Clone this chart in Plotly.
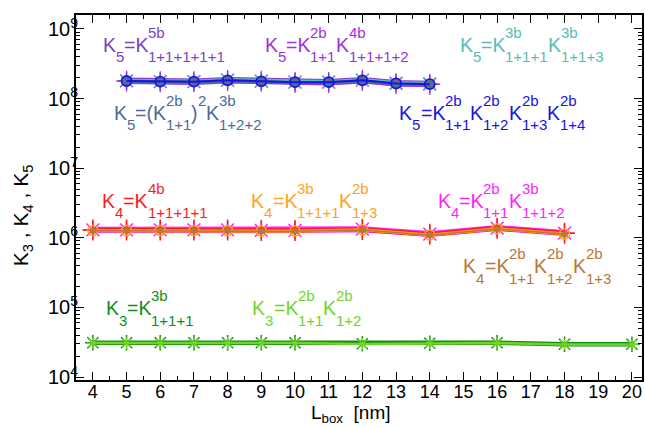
import plotly.graph_objects as go
import numpy as np

# ---------------- data ----------------
x_k5 = [5, 6, 7, 8, 9, 10, 11, 12, 13, 14]
k5_5b      = [1.80e8, 1.75e8, 1.75e8, 1.84e8, 1.78e8, 1.72e8, 1.72e8, 1.84e8, 1.66e8, 1.62e8]
k5_2b4b    = [1.78e8, 1.74e8, 1.74e8, 1.82e8, 1.77e8, 1.71e8, 1.71e8, 1.82e8, 1.64e8, 1.60e8]
k5_3b3b    = [1.81e8, 1.76e8, 1.76e8, 1.85e8, 1.79e8, 1.73e8, 1.73e8, 1.85e8, 1.67e8, 1.63e8]
k5_2b2b3b  = [1.77e8, 1.73e8, 1.73e8, 1.81e8, 1.76e8, 1.70e8, 1.70e8, 1.81e8, 1.64e8, 1.60e8]
k5_2b4     = [1.79e8, 1.75e8, 1.75e8, 1.83e8, 1.77e8, 1.72e8, 1.72e8, 1.83e8, 1.65e8, 1.61e8]

x_k4 = [4, 5, 6, 7, 8, 9, 10, 12, 14, 16, 18]
k4_4b      = [1.29e6, 1.29e6, 1.29e6, 1.29e6, 1.29e6, 1.27e6, 1.27e6, 1.32e6, 1.12e6, 1.37e6, 1.16e6]
k4_3b2b    = [1.27e6, 1.27e6, 1.27e6, 1.27e6, 1.27e6, 1.25e6, 1.25e6, 1.30e6, 1.10e6, 1.35e6, 1.14e6]
k4_2b3b    = [1.30e6, 1.30e6, 1.30e6, 1.30e6, 1.30e6, 1.28e6, 1.28e6, 1.33e6, 1.13e6, 1.38e6, 1.17e6]
k4_2b2b2b  = [1.26e6, 1.26e6, 1.26e6, 1.26e6, 1.26e6, 1.24e6, 1.24e6, 1.29e6, 1.09e6, 1.34e6, 1.13e6]

x_k3 = [4, 5, 6, 7, 8, 9, 10, 12, 14, 16, 18, 20]
k3_3b      = [3.1e4, 3.1e4, 3.1e4, 3.1e4, 3.1e4, 3.1e4, 3.1e4, 3.0e4, 3.05e4, 3.1e4, 2.95e4, 2.95e4]
k3_2b2b    = [3.08e4, 3.08e4, 3.08e4, 3.08e4, 3.08e4, 3.08e4, 3.08e4, 2.98e4, 3.03e4, 3.08e4, 2.93e4, 2.93e4]

x_ticks = list(range(4, 21))
y_decades = [4, 5, 6, 7, 8, 9]

# ---------------- figure geometry ----------------
W, H = 645, 427
L, R, T, B = 76, 1, 15, 47
PW, PH = W - L - R, H - T - B

FONT = "Liberation Sans, Arial, Helvetica, sans-serif"

fig = go.Figure()

def add_series(x, y, color, lw, msym, msize, mlw=1.5, mfill=None):
    fig.add_trace(go.Scatter(
        x=x, y=y, mode="lines+markers",
        line=dict(color=color, width=lw),
        marker=dict(symbol=msym, size=msize,
                    color=mfill if mfill else color,
                    line=dict(color=color, width=mlw)),
        showlegend=False, hoverinfo="skip"))

# K3
add_series(x_k3, k3_3b, "#0C8F17", 4.5, "asterisk-open", 13, 1.5)
add_series(x_k3, k3_2b2b, "#72D424", 2.5, "asterisk-open", 10, 1.2)
# K4
add_series(x_k4, k4_2b3b, "#FF22FF", 6, "asterisk-open", 15, 1.5)
add_series(x_k4, k4_4b, "#FF1A1A", 4.5, "cross-thin-open", 15, 1.5)
add_series(x_k4, k4_3b2b, "#FFA31A", 3, "circle-open", 10, 1.5)
add_series(x_k4, k4_2b2b2b, "#B87838", 1.5, "circle", 6, 0.5)
# K5
add_series(x_k5, k5_5b, "#7E3FC6", 6.5, "asterisk-open", 15, 1.5)
add_series(x_k5, k5_2b4b, "#A030DC", 5, "cross-thin-open", 15, 1.2)
add_series(x_k5, k5_3b3b, "#55BDB8", 4, "x-thin-open", 12, 1.2)
add_series(x_k5, k5_2b2b3b, "#4C6A9C", 3, "circle", 9, 1, "#5A6A8C")
add_series(x_k5, k5_2b4, "#1414E6", 2, "circle-open", 10, 1.8)

# ---------------- formula annotations ----------------
WID = {'K': 0.667, '=': 0.584, '+': 0.584, 'b': 0.556, '(': 0.333, ')': 0.333}
def tw(s, size):
    return sum(WID.get(c, 0.556) for c in s) * size

SM, SS = 19.5, 15  # main / script sizes
annots = []

def put(text, px, baseline, size, color):
    cy = baseline - 0.3465 * size
    annots.append(dict(text=text, x=(px - L) / PW, y=(H - B - cy) / PH,
                       xref="paper", yref="paper", xanchor="left", yanchor="middle",
                       showarrow=False, borderpad=0, borderwidth=0,
                       font=dict(family=FONT, size=size, color=color)))

def formula(x0, base, parts, color):
    cx = x0
    for p in parts:
        kind = p[0]
        if kind == 'm':
            put(p[1], cx, base, SM, color); cx += tw(p[1], SM)
        elif kind == 's':
            put(p[1], cx, base + 10.5, SS, color); cx += tw(p[1], SS)
        elif kind == 'p':
            put(p[1], cx, base - 14, SS, color); cx += tw(p[1], SS)
        elif kind == 'S':
            put(p[1], cx, base - 14, SS, color)
            put(p[2], cx, base + 10.5, SS, color)
            cx += max(tw(p[1], SS), tw(p[2], SS))

formula(103, 51.5, [('m', 'K'), ('s', '5'), ('m', '=K'), ('S', '5b', '1+1+1+1+1')], "#7E3FC6")
formula(265.5, 51.5, [('m', 'K'), ('s', '5'), ('m', '=K'), ('S', '2b', '1+1'), ('m', 'K'), ('S', '4b', '1+1+1+2')], "#A030DC")
formula(461, 51.5, [('m', 'K'), ('s', '5'), ('m', '=K'), ('S', '3b', '1+1+1'), ('m', 'K'), ('S', '3b', '1+1+3')], "#55BDB8")
formula(114, 119.5, [('m', 'K'), ('s', '5'), ('m', '=(K'), ('S', '2b', '1+1'), ('m', ')'), ('p', '2'), ('m', 'K'), ('S', '3b', '1+2+2')], "#4C6A9C")
formula(400.5, 119.5, [('m', 'K'), ('s', '5'), ('m', '=K'), ('S', '2b', '1+1'), ('m', 'K'), ('S', '2b', '1+2'), ('m', 'K'), ('S', '2b', '1+3'), ('m', 'K'), ('S', '2b', '1+4')], "#1414E6")
formula(102.3, 207.4, [('m', 'K'), ('s', '4'), ('m', '=K'), ('S', '4b', '1+1+1+1')], "#FF1A1A")
formula(252, 207.4, [('m', 'K'), ('s', '4'), ('m', '=K'), ('S', '3b', '1+1+1'), ('m', 'K'), ('S', '2b', '1+3')], "#FFA31A")
formula(439, 207.4, [('m', 'K'), ('s', '4'), ('m', '=K'), ('S', '2b', '1+1'), ('m', 'K'), ('S', '3b', '1+1+2')], "#FF22FF")
formula(464.7, 272.8, [('m', 'K'), ('s', '4'), ('m', '=K'), ('S', '2b', '1+1'), ('m', 'K'), ('S', '2b', '1+2'), ('m', 'K'), ('S', '2b', '1+3')], "#B87838")
formula(105.8, 315, [('m', 'K'), ('s', '3'), ('m', '=K'), ('S', '3b', '1+1+1')], "#0C8F17")
formula(253, 315, [('m', 'K'), ('s', '3'), ('m', '=K'), ('S', '2b', '1+1'), ('m', 'K'), ('S', '2b', '1+2')], "#72D424")

# axis titles as annotations
annots.append(dict(text="K<sub>3</sub> , K<sub>4</sub> , K<sub>5</sub>",
                   x=(22 - L) / PW, y=(H - B - 215) / PH, xref="paper", yref="paper",
                   xanchor="center", yanchor="middle", textangle=-90, showarrow=False,
                   font=dict(family=FONT, size=21, color="black")))
annots.append(dict(text="L<sub>box</sub>  [nm]",
                   x=(352 - L) / PW, y=(H - B - 414) / PH, xref="paper", yref="paper",
                   xanchor="center", yanchor="middle", showarrow=False,
                   font=dict(family=FONT, size=19, color="black")))

# ---------------- axes ----------------
y_minor = [m * 10 ** d for d in range(3, 10) for m in range(2, 10)]
ytext = ["10<sup>%d</sup>" % d for d in y_decades]
lo, hi = 3.957, 9.201

fig.update_layout(
    width=W, height=H, margin=dict(l=L, r=R, t=T, b=B),
    paper_bgcolor="white", plot_bgcolor="white",
    annotations=annots,
    xaxis=dict(range=[3.5, 20.3], tickmode="array", tickvals=x_ticks,
               ticktext=[str(v) for v in x_ticks],
               ticks="inside", ticklen=8, tickwidth=1.3, tickcolor="black",
               showline=True, linecolor="black", linewidth=2, mirror="ticks",
               showgrid=False, zeroline=False, ticklabelstandoff=-6,
               tickfont=dict(family=FONT, size=18, color="black"),
               minor=dict(tickvals=[v + 0.5 for v in range(3, 21)], ticks="inside",
                          ticklen=4, tickwidth=1.3, tickcolor="black", showgrid=False)),
    yaxis=dict(type="log", range=[lo, hi], tickmode="array",
               tickvals=[10 ** d for d in y_decades], ticktext=ytext,
               ticks="inside", ticklen=8, tickwidth=1.3, tickcolor="black",
               showline=True, linecolor="black", linewidth=2, mirror="ticks",
               showgrid=False, zeroline=False, ticklabelstandoff=-8,
               tickfont=dict(family=FONT, size=20, color="black"),
               minor=dict(tickvals=y_minor, ticks="inside", ticklen=4, tickwidth=1.3,
                          tickcolor="black", showgrid=False)),
)

fig.write_html("out.html")
